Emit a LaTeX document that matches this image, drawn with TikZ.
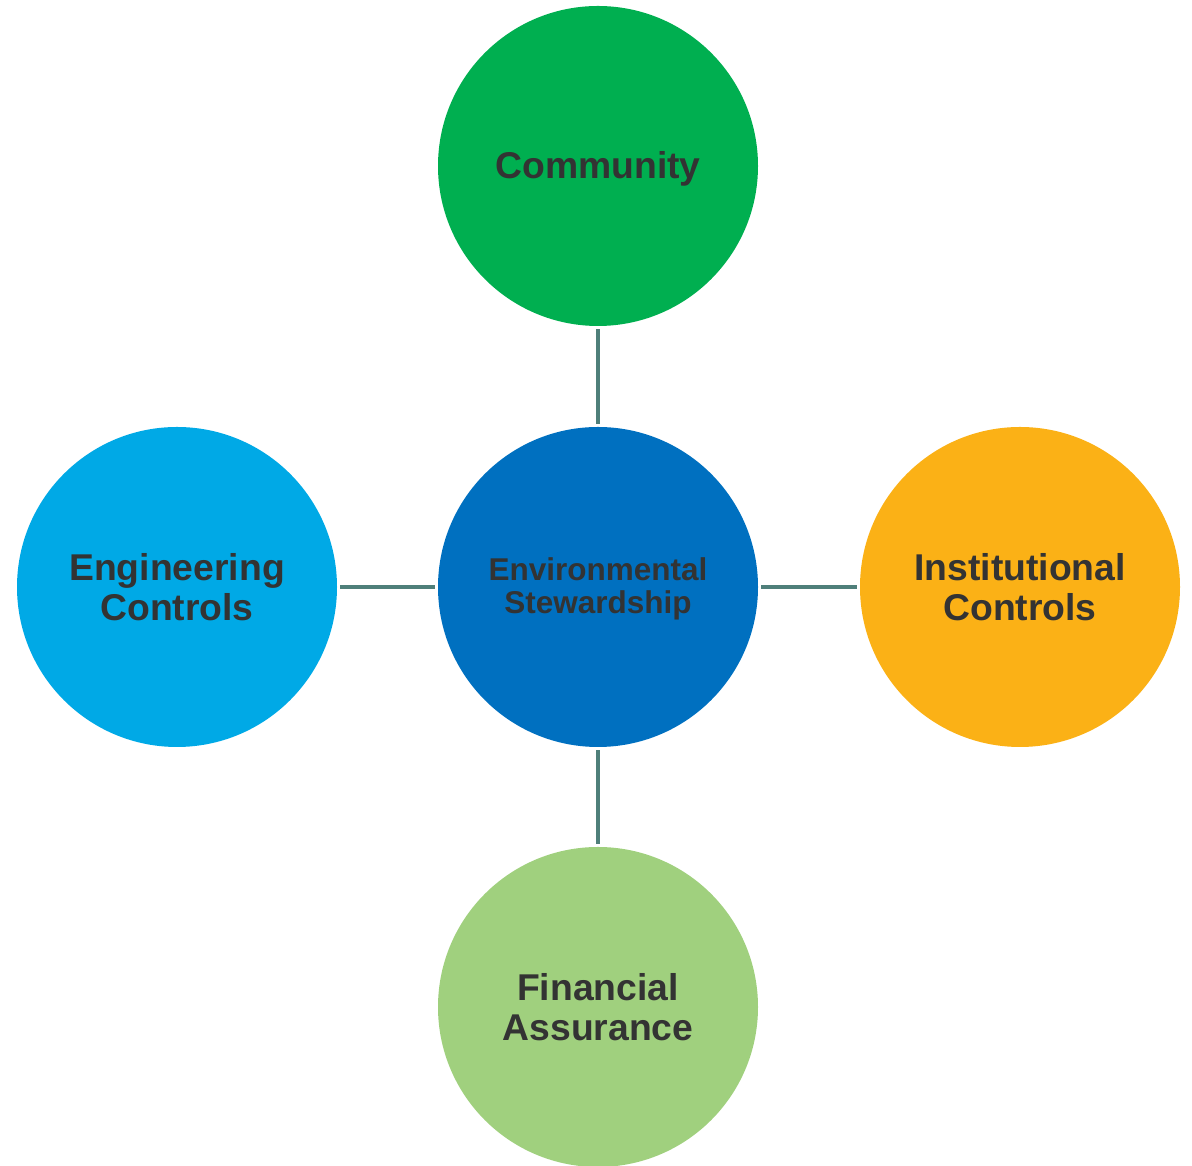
\documentclass[tikz,border=0pt]{standalone}
\usepackage{fontspec}
\setmainfont{Liberation Sans}
\definecolor{cgreen}{HTML}{00AF50}
\definecolor{cblue}{HTML}{0070C0}
\definecolor{clight}{HTML}{00A9E6}
\definecolor{corange}{HTML}{FBB116}
\definecolor{clime}{HTML}{A0D07E}
\definecolor{ctext}{HTML}{333333}
\definecolor{cline}{HTML}{4F7F7A}
\begin{document}
\begin{tikzpicture}[x=1pt,y=1pt,
  bubble/.style={circle,minimum size=320pt,inner sep=0pt,text=ctext,align=center,
     font=\fontsize{37.3}{39.5}\selectfont\bfseries},
  caption/.style={text=ctext,align=center,inner sep=0pt,font=\fontsize{37.3}{39.5}\selectfont\bfseries},
  hubcaption/.style={caption,font=\fontsize{31.5}{33.5}\selectfont\bfseries},
  link/.style={draw=cline,line width=3.2pt,shorten >=3pt,shorten <=3pt}]
\useasboundingbox (0,0) rectangle (1192,1166);
\node[bubble,fill=cblue,label={[hubcaption,yshift=-2pt]center:Environmental\\Stewardship}] (c) at (598,579) {};
\node[bubble,fill=cgreen,label={[caption,yshift=-2.5pt]center:Community}] (t) at (598,1000) {};
\node[bubble,fill=clight] (l) at (177,579) {Engineering\\Controls};
\node[bubble,fill=corange] (r) at (1020,579) {Institutional\\Controls};
\node[bubble,fill=clime] (b) at (598,159) {Financial\\Assurance};
\draw[link] (t) -- (c);
\draw[link] (l) -- (c);
\draw[link] (c) -- (r);
\draw[link] (c) -- (b);
\end{tikzpicture}
\end{document}
